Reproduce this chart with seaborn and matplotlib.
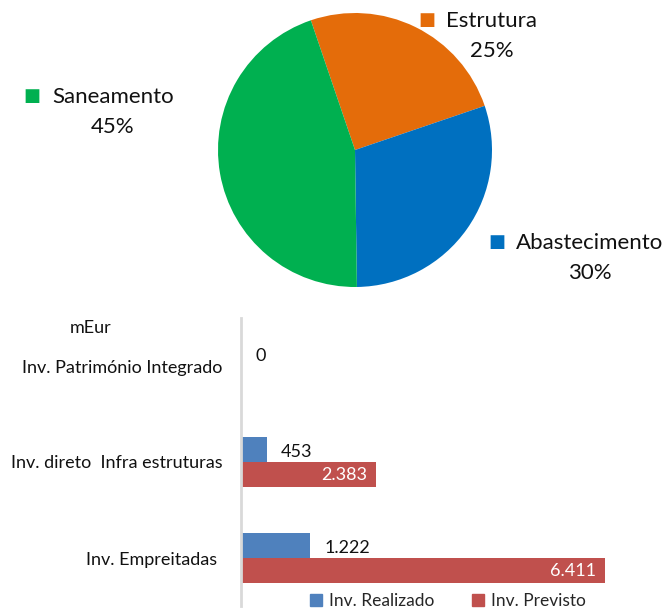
import matplotlib
matplotlib.use("Agg")
import matplotlib.pyplot as plt
import pandas as pd
import seaborn as sns
from matplotlib.patches import Patch

# Pie: share of investment by area (%)
PIE_LABELS = ["Estrutura", "Abastecimento", "Saneamento"]
PIE_SHARES = [25, 30, 45]
PIE_COLORS = ["#E46C0A", "#0070C0", "#00B050"]

# Bars: investment in mEur
CATEGORIES = ["Inv. Património Integrado", "Inv. direto  Infra estruturas", "Inv. Empreitadas "]
REALIZADO = [0, 453, 1222]
PREVISTO = [0, 2383, 6411]
SERIES = ["Inv. Realizado", "Inv. Previsto"]
BAR_COLORS = ["#4F81BD", "#C0504D"]

W, H = 667, 609


def fig_xy(x, y):
    # pixel position -> figure fraction
    return x / W, 1 - y / H


def fmt(v):
    return f"{v:,}".replace(",", ".")


sns.set_style("white")
plt.rcParams["font.family"] = ["Lato", "DejaVu Sans"]

fig = plt.figure(figsize=(W / 100, H / 100), dpi=100)

# ---- pie ----
ax_pie = fig.add_axes([(355 - 137) / W, (H - 287) / H, 274 / W, 274 / H])
ax_pie.pie(PIE_SHARES, colors=PIE_COLORS, startangle=108.8, counterclock=False,
           wedgeprops=dict(linewidth=0))
ax_pie.set_xlim(-1, 1)
ax_pie.set_ylim(-1, 1)
ax_pie.set_aspect("equal")
ax_pie.axis("off")

# label spots: (square, name start, percent centre) in pixels
label_spots = {
    "Estrutura": ((427, 20), (446, 21), (492, 51)),
    "Abastecimento": ((497, 242), (516, 243), (590, 273)),
    "Saneamento": ((32, 96), (52, 97), (113, 127)),
}
for name, share, color in zip(PIE_LABELS, PIE_SHARES, PIE_COLORS):
    sq, tx, pc = label_spots[name]
    fig.text(*fig_xy(*sq), "■", color=color, fontsize=13, ha="center", va="center",
             family="DejaVu Sans")
    fig.text(*fig_xy(*tx), name, fontsize=16, ha="left", va="center", color="#111111")
    fig.text(*fig_xy(*pc), f"{share}%", fontsize=16, ha="center", va="center", color="#111111")

# ---- bars ----
df = pd.DataFrame({
    "cat": CATEGORIES * 2,
    "value": REALIZADO + PREVISTO,
    "series": [SERIES[0]] * 3 + [SERIES[1]] * 3,
})

ax = fig.add_axes([241 / W, (H - 606) / H, 7000 * 0.0568 / W, 288 / H])
sns.barplot(data=df, y="cat", x="value", hue="series", orient="h",
            palette=BAR_COLORS, width=0.52, saturation=1, linewidth=0,
            legend=False, ax=ax)
ax.set_xlim(0, 7000)
ax.set_ylim(2.5, -0.5)
ax.set_xlabel("")
ax.set_ylabel("")
ax.set_xticks([])
ax.tick_params(axis="y", length=0, pad=13.5, labelsize=13, labelcolor="#111111")
for s in ["top", "right", "bottom"]:
    ax.spines[s].set_visible(False)
ax.spines["left"].set_color("#D9D9D9")
ax.spines["left"].set_linewidth(2)

for bar, v in zip(ax.containers[0], REALIZADO):
    y = bar.get_y() + bar.get_height() / 2
    ax.annotate(fmt(v), (v, y), xytext=(14, -2), textcoords="offset pixels",
                ha="left", va="center", fontsize=13, color="#111111")
for bar, v in zip(ax.containers[1], PREVISTO):
    if v == 0:
        continue
    y = bar.get_y() + bar.get_height() / 2
    ax.annotate(fmt(v), (v, y), xytext=(-9, -1), textcoords="offset pixels",
                ha="right", va="center", fontsize=13, color="white")

fig.text(*fig_xy(91, 328), "mEur", fontsize=13, ha="center", va="center", color="#111111")

handles = [Patch(color=c, label=s) for s, c in zip(SERIES, BAR_COLORS)]
fig.legend(handles=handles, loc="center", bbox_to_anchor=fig_xy(448, 601), ncol=2,
           frameon=False, fontsize=12.5, handlelength=0.7, handleheight=0.7,
           handletextpad=0.4, columnspacing=2.2)

fig.savefig("out.png", dpi=100)
